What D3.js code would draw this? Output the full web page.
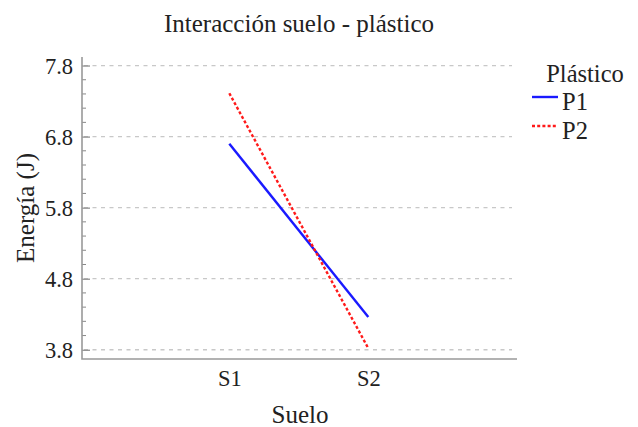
<!DOCTYPE html>
<html><head><meta charset="utf-8">
<script src="https://cdn.jsdelivr.net/npm/d3@7"></script>
<style>body{margin:0;background:#fff} text{font-family:"Liberation Serif","DejaVu Serif","Times New Roman",serif;}</style>
</head><body>
<svg id="c" width="638" height="427"></svg>
<script>
const categories = ["S1", "S2"];
const seriesNames = ["P1", "P2"];
const p1Values = [6.70, 4.26];
const p2Values = [7.41, 3.82];
const yTicks = [3.8, 4.8, 5.8, 6.8, 7.8];
const title = "Interacción suelo - plástico";
const xTitle = "Suelo";
const yTitle = "Energía (J)";
const legendTitle = "Plástico";

const svg = d3.select("#c");
const L = 82, R = 517, T = 57, B = 359;
const x = d3.scaleLinear().domain([-0.06, 3.07]).range([L, R]);
const y = d3.scaleLinear().domain([3.67, 7.92]).range([B, T]);

// gridlines
svg.append("g").selectAll("line").data(yTicks).join("line")
  .attr("x1", L + 2).attr("x2", 512)
  .attr("y1", d => y(d)).attr("y2", d => y(d))
  .attr("stroke", "#c8c8c8").attr("stroke-width", 1.3)
  .attr("stroke-dasharray", "4,4.5");

// minor ticks
const minor = d3.range(3.8, 7.81, 0.2).map(v => +v.toFixed(1)).filter(v => !yTicks.includes(v));
svg.append("g").selectAll("line").data(minor).join("line")
  .attr("x1", L).attr("x2", L + 4)
  .attr("y1", d => y(d)).attr("y2", d => y(d))
  .attr("stroke", "#888").attr("stroke-width", 1);

// y axis
const yAxis = d3.axisRight(y).tickValues(yTicks).tickSize(8).tickFormat(d3.format(".1f"));
const gy = svg.append("g").attr("transform", `translate(${L},0)`).call(yAxis);
gy.attr("font-family", null).attr("font-size", null);
gy.select(".domain").remove();
gy.selectAll(".tick line").attr("stroke", "#888").attr("stroke-width", 1.2);
gy.selectAll(".tick text").attr("x", -9).attr("dy", "0.34em").attr("text-anchor", "end")
  .style("font-size", "22.5px").attr("fill", "#222");

// x axis
const xAxis = d3.axisBottom(x).tickValues([1, 2]).tickSize(0).tickFormat(d => categories[d - 1]);
const gx = svg.append("g").attr("transform", `translate(0,${B})`).call(xAxis);
gx.attr("font-family", null).attr("font-size", null);
gx.select(".domain").remove();
gx.selectAll(".tick text").attr("dy", "0").attr("y", 27)
  .style("font-size", "22.5px").attr("fill", "#222");

// axis lines
svg.append("path").attr("d", `M${L},${T}V${B}H${R}`)
  .attr("fill", "none").attr("stroke", "#999").attr("stroke-width", 1.6);

// series
const line = d3.line().x((d, i) => x(i + 1)).y(d => y(d));
svg.append("path").datum(p1Values).attr("d", line)
  .attr("fill", "none").attr("stroke", "#1a1aff").attr("stroke-width", 2.4);
svg.append("path").datum(p2Values).attr("d", line)
  .attr("fill", "none").attr("stroke", "#ff1a1a").attr("stroke-width", 2.4)
  .attr("stroke-dasharray", "3,2.2");

// titles
svg.append("text").attr("x", 299).attr("y", 32).attr("text-anchor", "middle")
  .style("font-size", "25px").attr("fill", "#222").text(title);
svg.append("text").attr("x", 300).attr("y", 423).attr("text-anchor", "middle")
  .style("font-size", "25px").attr("fill", "#222").text(xTitle);
svg.append("text").attr("transform", `translate(34,${(T + B) / 2}) rotate(-90)`).attr("text-anchor", "middle")
  .style("font-size", "25px").attr("fill", "#222").text(yTitle);

// legend
svg.append("text").attr("x", 585).attr("y", 82).attr("text-anchor", "middle")
  .style("font-size", "24.5px").attr("fill", "#222").text(legendTitle);
const styles = [{c: "#1a1aff", d: null}, {c: "#ff1a1a", d: "3,2.2"}];
seriesNames.forEach((n, i) => {
  const yy = 97 + i * 29;
  svg.append("line").attr("x1", 532).attr("x2", 558).attr("y1", yy).attr("y2", yy)
    .attr("stroke", styles[i].c).attr("stroke-width", 2.4).attr("stroke-dasharray", styles[i].d);
  svg.append("text").attr("x", 562).attr("y", yy + 13)
    .style("font-size", "24.5px").attr("fill", "#222").text(n);
});
</script>
</body></html>
